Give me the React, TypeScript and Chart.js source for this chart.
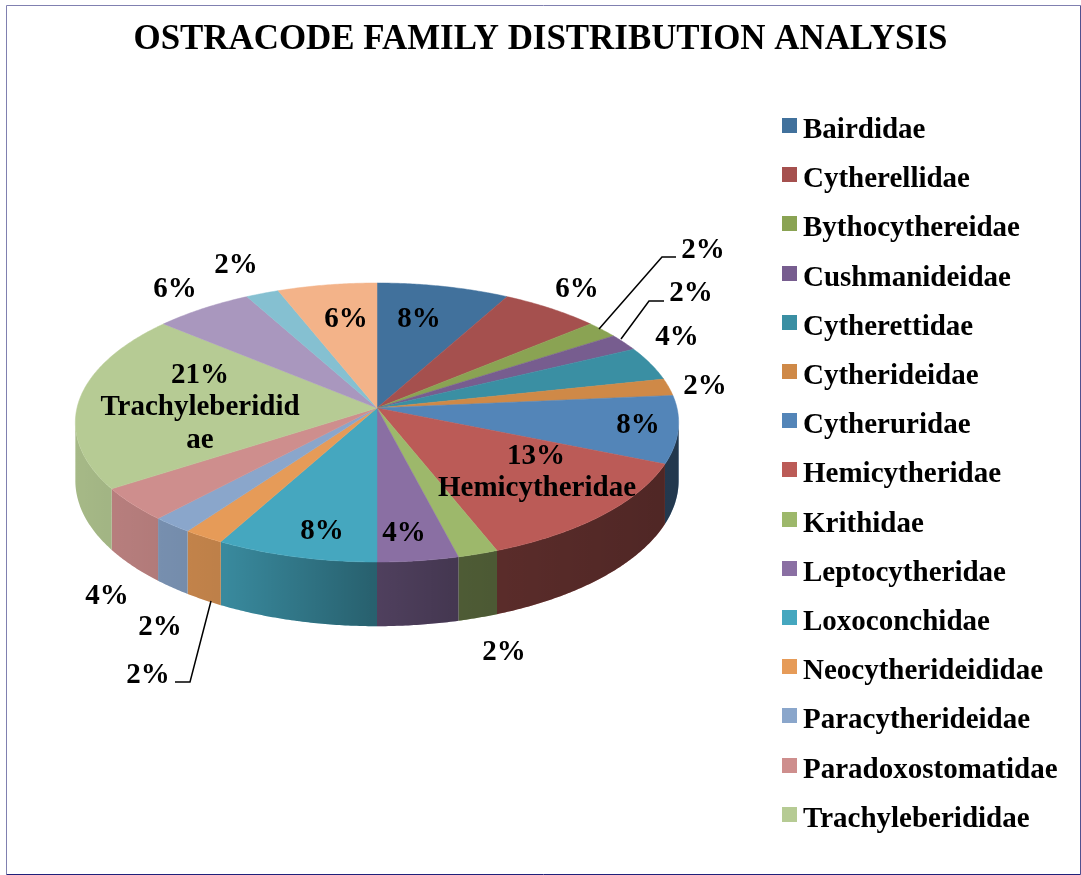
import React, { useEffect, useRef } from "react";
import { Chart, registerables } from "chart.js";

Chart.register(...registerables);

const TITLE = "OSTRACODE FAMILY DISTRIBUTION ANALYSIS";
const FONT = '"Liberation Serif", "Times New Roman", serif';

const legendNames = [
  "Bairdidae", "Cytherellidae", "Bythocythereidae", "Cushmanideidae", "Cytherettidae",
  "Cytherideidae", "Cytheruridae", "Hemicytheridae", "Krithidae", "Leptocytheridae",
  "Loxoconchidae", "Neocytherideididae", "Paracytherideidae", "Paradoxostomatidae", "Trachyleberididae",
];
const extraSlices = ["", "", ""];
const sliceValues = [8, 6, 2, 2, 4, 2, 8, 13, 2, 4, 8, 2, 2, 4, 21, 6, 2, 6];
const sliceColors = [
  "#41719C", "#A5504E", "#8AA353", "#775D8F", "#3A8FA3", "#CF8947",
  "#5385B8", "#BB5B57", "#9DB86B", "#8A6FA3", "#45A7BF", "#E69B58",
  "#8AA6CB", "#CE8E8D", "#B6CB94", "#A997BE", "#85C0D1", "#F3B389",
];
const legendColors = sliceColors.slice(0, 15);

// Free-standing data labels: [text, centre x, centre y]
const labelTable: [string, number, number][] = [
  ["8%", 419, 320], ["6%", 577, 290], ["2%", 703, 251], ["2%", 691, 294], ["4%", 677, 338],
  ["2%", 705, 387], ["8%", 638, 426], ["13%", 536, 457], ["Hemicytheridae", 537, 489],
  ["2%", 504, 653], ["4%", 404, 534], ["8%", 322, 532], ["2%", 148, 676], ["2%", 160, 628],
  ["4%", 107, 597], ["21%", 200, 376], ["Trachyleberidid", 200, 408], ["ae", 200, 441],
  ["6%", 175, 290], ["2%", 236, 266], ["6%", 346, 320],
];
const leaderLines: number[][][] = [
  [[599, 329], [662, 257], [676, 257]],
  [[621, 339], [649, 301], [664, 301]],
  [[211, 601], [190, 682], [175, 682]],
];

// Perspective of the tilted disc
const K = 0.104;
const SQUASH = 138 / 300;
const DEPTH = 57.5;

const projector = (arc: any) => (a: number) => {
  const c = Math.cos(a), s = Math.sin(a), w = 1 - K * s;
  return {
    x: arc.x + (arc.outerRadius * c) / w,
    y: arc.y + (arc.outerRadius * SQUASH * s) / w,
    d: DEPTH / w,
  };
};
const sweep = (a0: number, a1: number) => {
  const n = Math.max(2, Math.ceil(Math.abs(a1 - a0) / (Math.PI / 360)));
  return Array.from({ length: n + 1 }, (_, i) => a0 + ((a1 - a0) * i) / n);
};

const piePlugin = {
  id: "pie3d",
  afterLayout(chart: any) {
    chart.chartArea = { left: 77, right: 677, top: 108, bottom: 708, width: 600, height: 600 };
  },
  beforeDatasetsDraw(chart: any) {
    const ctx = chart.ctx as CanvasRenderingContext2D;
    const arcs = chart.getDatasetMeta(0).data;
    const lo = Math.asin(K), hi = Math.PI - lo;
    const twoPi = Math.PI * 2;

    // side wall
    arcs.forEach((arc: any, i: number) => {
      const p = projector(arc);
      for (const shift of [0, twoPi]) {
        const a0 = Math.max(arc.startAngle - shift, lo);
        const a1 = Math.min(arc.endAngle - shift, hi);
        if (a1 <= a0) continue;
        const pts = sweep(a0, a1).map(p);
        ctx.beginPath();
        pts.forEach((q, j) => (j ? ctx.lineTo(q.x, q.y) : ctx.moveTo(q.x, q.y)));
        [...pts].reverse().forEach((q) => ctx.lineTo(q.x, q.y + q.d));
        ctx.closePath();
        ctx.fillStyle = sliceColors[i];
        ctx.fill();
        const g = ctx.createLinearGradient(75, 0, 680, 0);
        g.addColorStop(0, "rgba(0,0,0,0.09)");
        g.addColorStop(0.25, "rgba(0,0,0,0.18)");
        g.addColorStop(0.49, "rgba(0,0,0,0.42)");
        g.addColorStop(0.62, "rgba(0,0,0,0.5)");
        g.addColorStop(1, "rgba(0,0,0,0.58)");
        ctx.fillStyle = g;
        ctx.fill();
      }
    });

    // top face
    arcs.forEach((arc: any, i: number) => {
      const p = projector(arc);
      ctx.beginPath();
      ctx.moveTo(arc.x, arc.y);
      sweep(arc.startAngle, arc.endAngle).map(p).forEach((q) => ctx.lineTo(q.x, q.y));
      ctx.closePath();
      ctx.fillStyle = sliceColors[i];
      ctx.strokeStyle = sliceColors[i];
      ctx.lineWidth = 0.5;
      ctx.fill();
      ctx.stroke();
    });
    return false;
  },
  afterDraw(chart: any) {
    const ctx = chart.ctx as CanvasRenderingContext2D;
    ctx.save();

    // frame
    const edge = (x0: number, y0: number, x1: number, y1: number, c: string) => {
      ctx.beginPath();
      ctx.moveTo(x0, y0);
      ctx.lineTo(x1, y1);
      ctx.strokeStyle = c;
      ctx.lineWidth = 1;
      ctx.stroke();
    };
    edge(6.5, 5.5, 1080.5, 5.5, "#8080B0");
    edge(6.5, 5.5, 6.5, 874.5, "#8080B0");
    edge(1080.5, 5.5, 1080.5, 874.5, "#50508F");
    edge(6.5, 874.5, 1080.5, 874.5, "#20207A");

    // leader lines
    ctx.strokeStyle = "#000";
    ctx.lineWidth = 1.5;
    leaderLines.forEach((line) => {
      ctx.beginPath();
      line.forEach(([x, y], j) => (j ? ctx.lineTo(x, y) : ctx.moveTo(x, y)));
      ctx.stroke();
    });

    // data labels
    ctx.fillStyle = "#000";
    ctx.font = `bold 29px ${FONT}`;
    ctx.textAlign = "center";
    ctx.textBaseline = "middle";
    labelTable.forEach(([t, x, y]) => ctx.fillText(t, x, y));

    // legend
    ctx.textAlign = "left";
    ctx.textBaseline = "alphabetic";
    legendNames.forEach((name, i) => {
      const base = 138 + i * 49.2;
      ctx.fillStyle = legendColors[i];
      ctx.fillRect(782, Math.round(base - 20), 15, 15);
      ctx.fillStyle = "#000";
      ctx.fillText(name, 803, base);
    });
    ctx.restore();
  },
};

export default function App() {
  const ref = useRef<HTMLCanvasElement | null>(null);
  useEffect(() => {
    const chart = new Chart(ref.current as HTMLCanvasElement, {
      type: "pie",
      data: {
        labels: [...legendNames, ...extraSlices],
        datasets: [{ data: sliceValues, backgroundColor: sliceColors, borderWidth: 0 }],
      },
      options: {
        responsive: false,
        animation: false,
        plugins: {
          legend: { display: false },
          tooltip: { enabled: false },
          title: {
            display: true,
            text: TITLE,
            color: "#000",
            font: { family: FONT, size: 34.9, weight: "bold" },
            padding: { top: 19, bottom: 10 },
          },
        },
      },
      plugins: [piePlugin],
    } as any);
    return () => chart.destroy();
  }, []);
  return (
    <canvas
      ref={ref}
      width={1081}
      height={875}
      style={{ position: "fixed", left: 0, top: 0, width: 1081, height: 875, display: "block", background: "#fff" }}
    />
  );
}
